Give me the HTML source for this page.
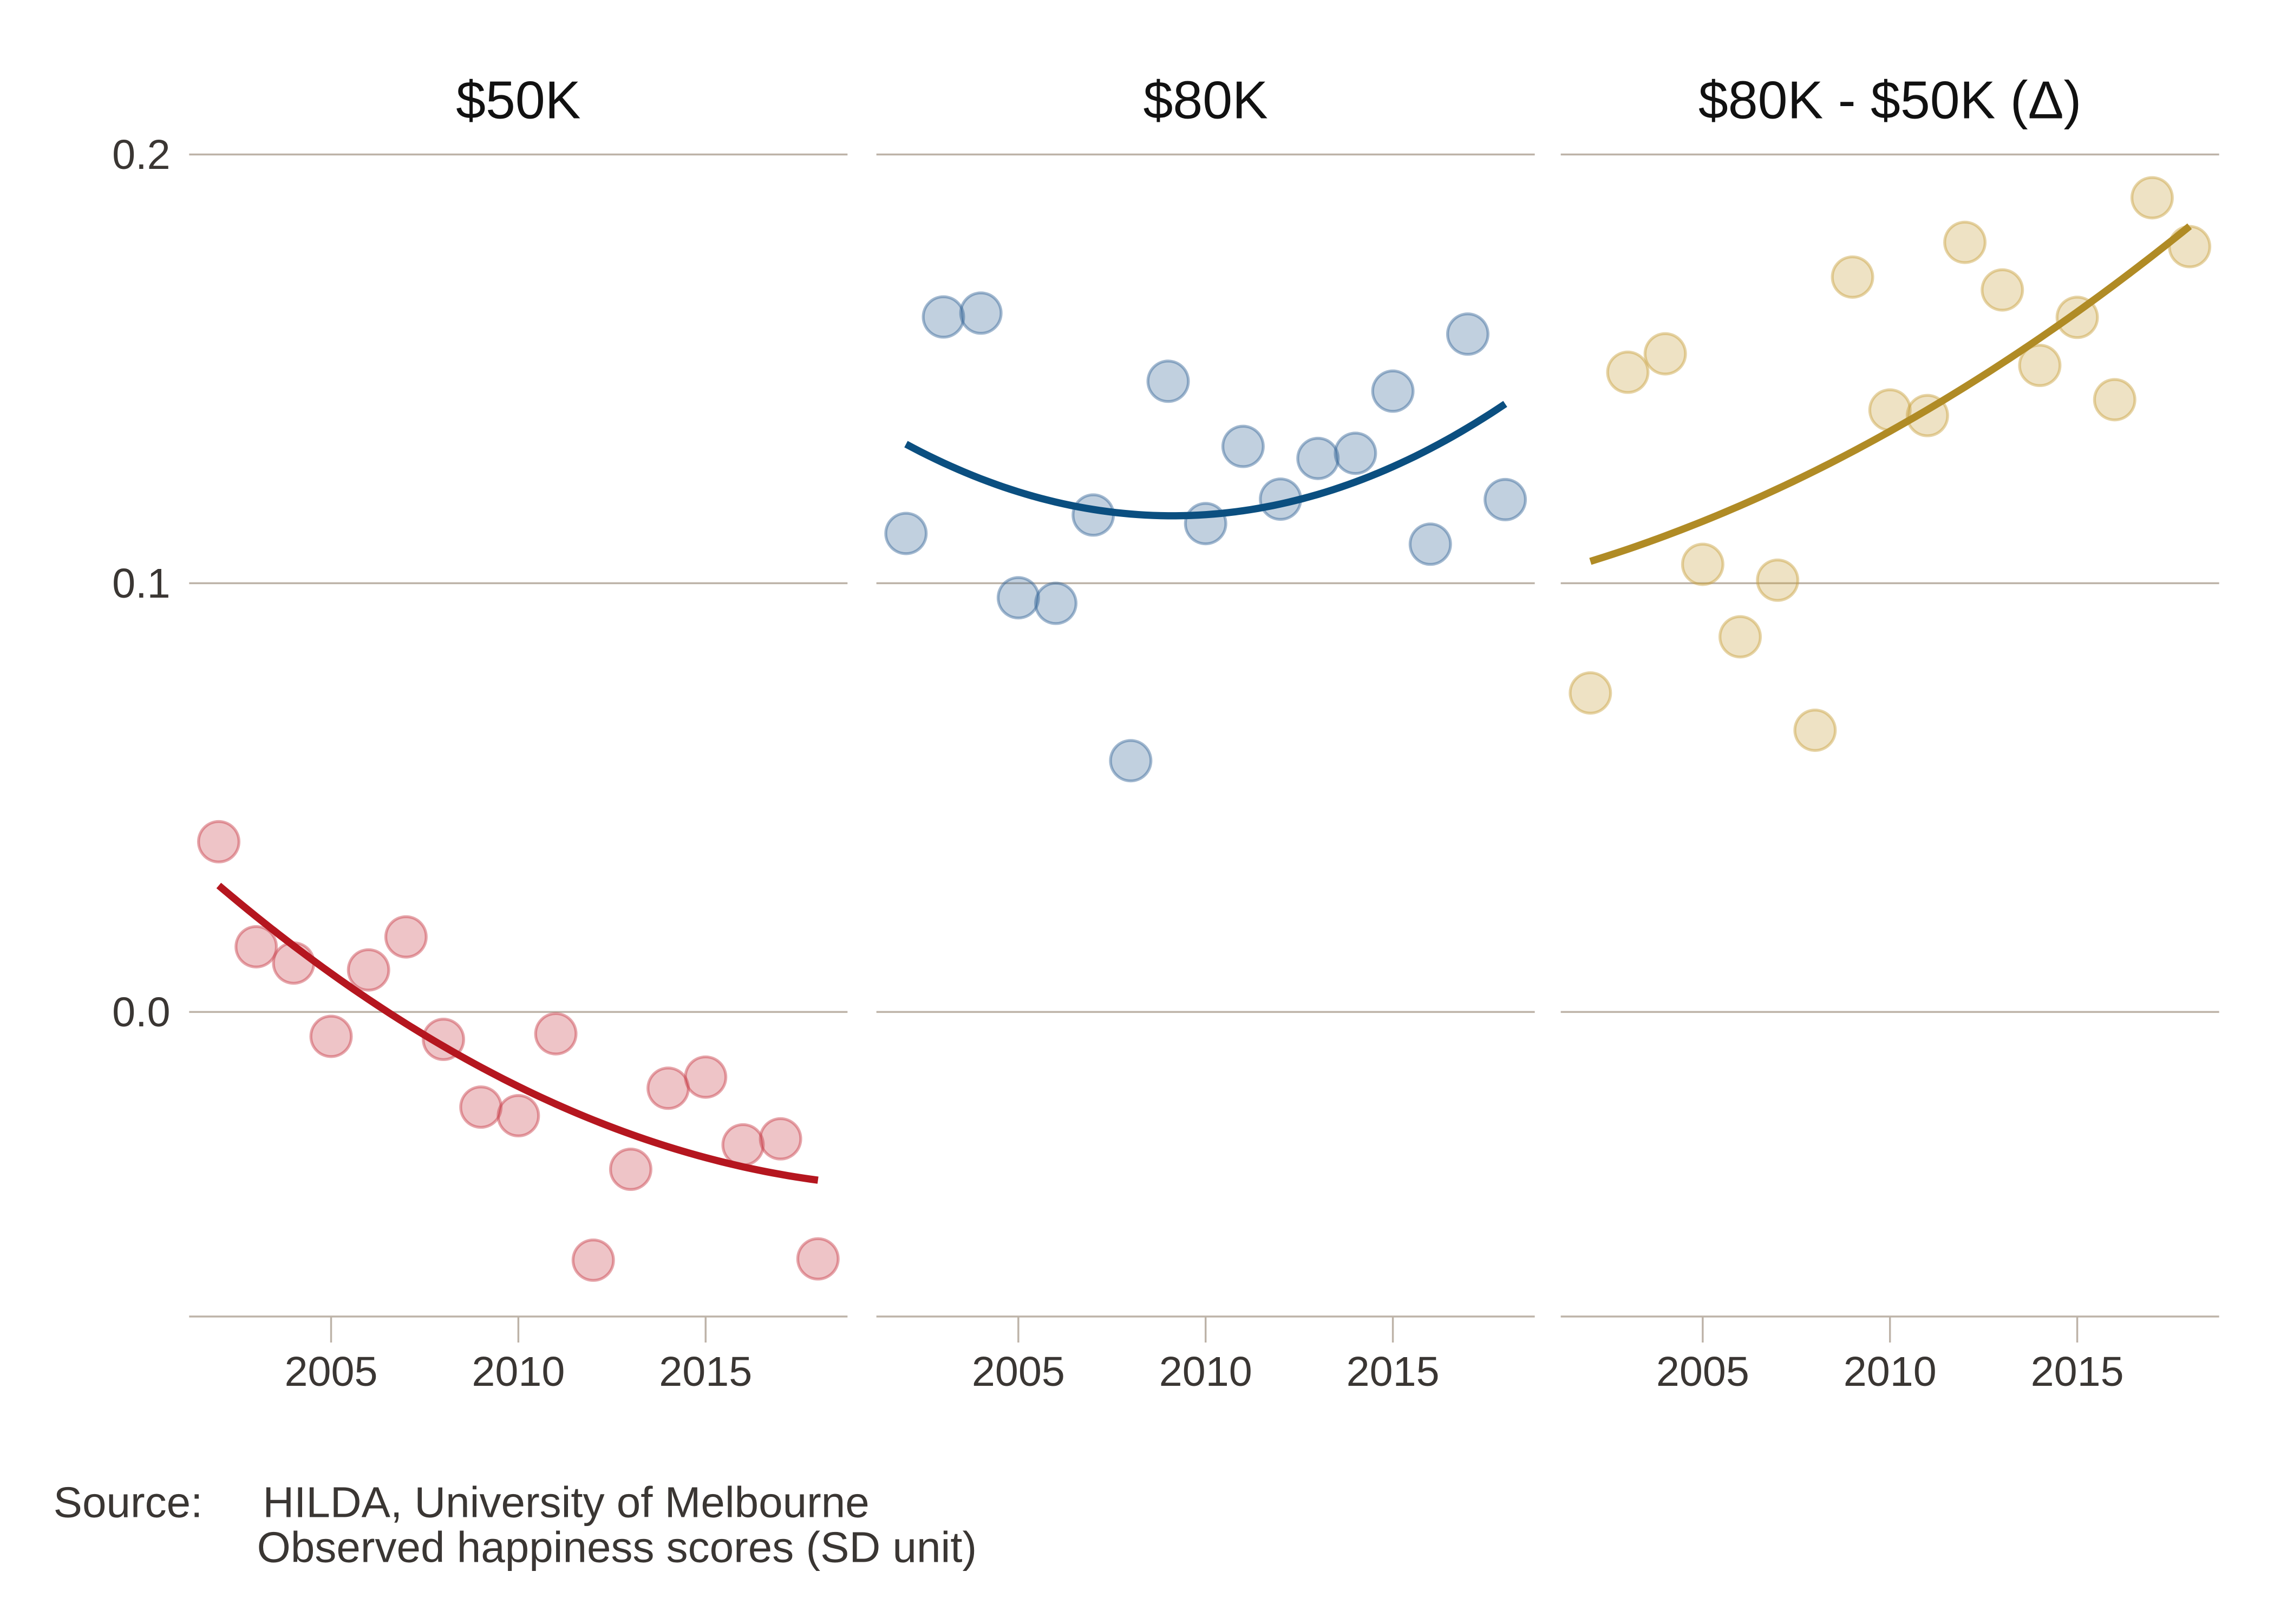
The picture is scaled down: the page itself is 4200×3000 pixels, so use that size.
<!DOCTYPE html>
<html><head><meta charset="utf-8"><style>
html,body{margin:0;padding:0;background:#fff;}
svg{display:block;}
text{font-family:"Liberation Sans",Arial,sans-serif;}
</style></head><body>
<svg id="chart" width="4200" height="3000" viewBox="0 0 1575 1125" xmlns="http://www.w3.org/2000/svg">
<g id="panels"></g>
<text x="37" y="1051" font-size="30" fill="#3a3633">Source:</text>
<text x="182" y="1051" font-size="30" fill="#3a3633">HILDA, University of Melbourne</text>
<text x="178" y="1082" font-size="30" fill="#3a3633">Observed happiness scores (SD unit)</text>
</svg>
<script>
const years = [2002,2003,2004,2005,2006,2007,2008,2009,2010,2011,2012,2013,2014,2015,2016,2017,2018];
const values50 = [0.0397,0.0152,0.0114,-0.0057,0.0098,0.0175,-0.0064,-0.0222,-0.0242,-0.0051,-0.0579,-0.0367,-0.0178,-0.0152,-0.031,-0.0296,-0.0576];
const values80 = [0.1116,0.1621,0.1630,0.0966,0.0953,0.1159,0.0586,0.1471,0.1139,0.1319,0.1196,0.1291,0.1303,0.1448,0.1091,0.1581,0.1195];
const valuesDelta = [0.0744,0.1492,0.1535,0.1044,0.0875,0.1007,0.0657,0.1714,0.1404,0.1391,0.1795,0.1684,0.1508,0.1620,0.1428,0.1899,0.1785];
const panelTitles = ["$50K","$80K","$80K - $50K (\u0394)"];
const yTicks = [0.2,0.1,0.0];
const yTickLabels = ["0.2","0.1","0.0"];
const xTicks = [2005,2010,2015];

const NS="http://www.w3.org/2000/svg";
const root=document.getElementById('panels');
const panelLeft=[131,607,1081], panelW=456;
const yScale=v=>701-v*2970;
const xScale=(p,yr)=>panelLeft[p]+20.5+(yr-2002)*25.94;
function mk(tag,attrs,parent){const e=document.createElementNS(NS,tag);for(const k in attrs)e.setAttribute(k,attrs[k]);parent.appendChild(e);return e;}
function quadFit(xs,ys){
  const n=xs.length,m=xs.reduce((a,b)=>a+b)/n;const u=xs.map(x=>x-m);
  let S=[0,0,0,0,0],T=[0,0,0];
  u.forEach((x,i)=>{for(let k=0;k<5;k++)S[k]+=Math.pow(x,k);for(let k=0;k<3;k++)T[k]+=Math.pow(x,k)*ys[i];});
  const A=[[S[0],S[1],S[2],T[0]],[S[1],S[2],S[3],T[1]],[S[2],S[3],S[4],T[2]]];
  for(let i=0;i<3;i++){for(let j=i+1;j<3;j++){const f=A[j][i]/A[i][i];for(let k=i;k<4;k++)A[j][k]-=f*A[i][k];}}
  const c=[0,0,0];for(let i=2;i>=0;i--){let s=A[i][3];for(let k=i+1;k<3;k++)s-=A[i][k]*c[k];c[i]=s/A[i][i];}
  return x=>c[0]+c[1]*(x-m)+c[2]*(x-m)*(x-m);
}
const series=[values50,values80,valuesDelta];
const lineCol=["#b5161f","#0b4f80","#b08b25"];
const dotFill=["rgba(200,60,70,0.3)","rgba(50,100,150,0.3)","rgba(200,160,60,0.3)"];
const dotStroke=["rgba(200,60,70,0.45)","rgba(50,100,150,0.45)","rgba(200,160,60,0.45)"];
for(let p=0;p<3;p++){
  const g=mk('g',{},root);
  
  
  const t=mk('text',{x:panelLeft[p]+panelW/2,y:82,'font-size':37,'text-anchor':'middle',fill:'#111'},g);
  t.textContent=panelTitles[p];
  
  
  yTicks.forEach((v,i)=>{
    const l=mk('line',{x1:panelLeft[p],x2:panelLeft[p]+panelW,y1:yScale(v),y2:yScale(v),stroke:'#bdb3a8','stroke-width':1.3},g);
    
    
    if(p===0){
      const lb=mk('text',{x:118,y:yScale(v)+10,'font-size':29,'text-anchor':'end',fill:'#3a3633'},g);
      lb.textContent=yTickLabels[i];
      
      
    }
  });
  const ax=mk('line',{x1:panelLeft[p],x2:panelLeft[p]+panelW,y1:912,y2:912,stroke:'#bdb3a8','stroke-width':1.3},g);
  
  
  xTicks.forEach(yr=>{
    const x=xScale(p,yr);
    const tk=mk('line',{x1:x,x2:x,y1:912,y2:930,stroke:'#bdb3a8','stroke-width':1.3},g);
    
    
    const tl=mk('text',{x:x,y:960,'font-size':29,'text-anchor':'middle',fill:'#3a3633'},g);
    tl.textContent=yr;
    
    
  });
  const vals=series[p];
  years.forEach((yr,i)=>{
    const c=mk('circle',{cx:xScale(p,yr),cy:yScale(vals[i]),r:14,fill:dotFill[p],stroke:dotStroke[p],'stroke-width':2},g);
    
    
  });
  const f=quadFit(years,vals);let d='';
  for(let s=0;s<=80;s++){const yr=2002+s*16/80;d+=(s?'L':'M')+xScale(p,yr).toFixed(2)+','+yScale(f(yr)).toFixed(2);}
  const path=mk('path',{d:d,fill:'none',stroke:lineCol[p],'stroke-width':5},g);
  
  
}
</script>
</body></html>
